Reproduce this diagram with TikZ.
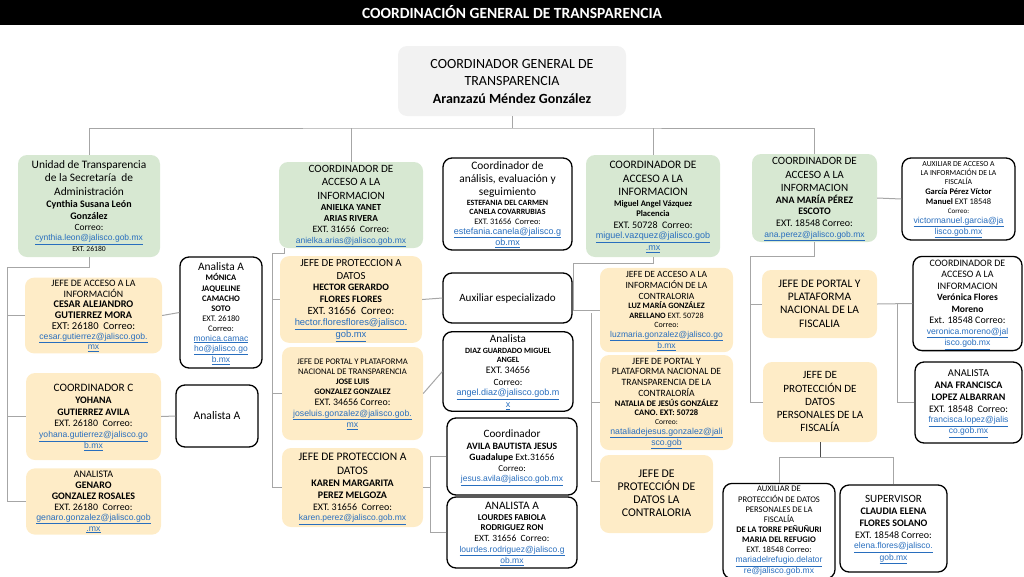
\documentclass[tikz,border=0pt]{standalone}
\usepackage{fontspec}
\setmainfont{Carlito}
\newfontfamily\linkfont{Liberation Sans}
\usepackage{xcolor}
\usepackage{tikz}
\usetikzlibrary{positioning}

\definecolor{cgreen}{RGB}{215,232,210}
\definecolor{corange}{RGB}{254,236,199}
\definecolor{cgray}{RGB}{242,242,242}
\definecolor{clink}{RGB}{40,110,190}
\definecolor{cline}{RGB}{166,166,166}

% one line of text: size, then a strut that fixes the line pitch
\newcommand{\lsf}{1.18}
\newcommand{\fs}[1]{\fontsize{#1}{#1}\selectfont\rule[-.3em]{0pt}{\lsf em}}
\newcommand{\lk}[2]{{\linkfont\fs{#1}\textcolor{clink}{\underline{#2}}}}
\newcommand{\zeroskip}{\baselineskip=0pt\lineskip=0pt\lineskiplimit=0pt}

\begin{document}
\begin{tikzpicture}[x=1pt, y=-1pt,
    greenbox/.style={fill=cgreen, rounded corners=9pt, align=center, inner sep=1pt, font=\zeroskip},
    orangebox/.style={fill=corange, rounded corners=9pt, align=center, inner sep=1pt, font=\zeroskip},
    whitebox/.style={draw=black, line width=1.3pt, fill=white, rounded corners=9pt, align=center, inner sep=1pt, font=\zeroskip},
    pitch/.style={font={\zeroskip\renewcommand{\lsf}{#1}}},
    boxsize/.style 2 args={minimum width=#1pt, minimum height=#2pt},
    conn/.style={draw=cline, line width=1pt}]

    \useasboundingbox (0,0) rectangle (1024,576);
    \fill[black] (0,0) rectangle (1024,25);
    \node[text=white, font=\fontsize{15.5}{18}\selectfont\bfseries] (title) at (512,12.5) {COORDINACIÓN GENERAL DE TRANSPARENCIA};

    % head
    \node[fill=cgray, rounded corners=9pt, align=center, boxsize={228}{70}, pitch=1.25] (head) at (512,81)
        {\fs{14}COORDINADOR GENERAL DE\\ \fs{14}TRANSPARENCIA\\ \fs{14}\textbf{Aranzazú Méndez González}};

    % first row
    \node[greenbox, boxsize={142}{102}] (unidad) at (89,206)
        {\fs{11.4}Unidad de Transparencia\\ \fs{11.4}de la Secretaría\ \ de\\ \fs{11.4}Administración\\
         \fs{10}\textbf{Cynthia Susana León}\\ \fs{10}\textbf{González}\\ \fs{9.5}Correo:\\
         \lk{8.5}{cynthia.leon@jalisco.gob.mx}\\ \fs{7.6}EXT. 26180};
    \node[greenbox, boxsize={144}{86}] (anielka) at (351,205)
        {\fs{11.1}COORDINADOR DE\\ \fs{11.1}ACCESO A LA\\ \fs{11.1}INFORMACION\\
         \fs{9.3}\textbf{ANIELKA YANET}\\ \fs{9.3}\textbf{ARIAS RIVERA}\\ \fs{9.7}EXT. 31656\ \ Correo:\\
         \lk{8.5}{anielka.arias@jalisco.gob.mx}};
    \node[whitebox, boxsize={129}{92}, pitch=1.15] (analisis) at (507.5,204)
        {\fs{11.4}Coordinador de\\ \fs{11.4}análisis, evaluación y\\ \fs{11.4}seguimiento\\
         \fs{8}\textbf{ESTEFANIA DEL CARMEN}\\ \fs{8}\textbf{CANELA COVARRUBIAS}\\ \fs{8.4}EXT. 31656\ \ Correo:\\
         \lk{9}{estefania.canela@jalisco.g}\\ \lk{9}{ob.mx}};
    \node[greenbox, boxsize={134}{102}] (miguel) at (653,206)
        {\fs{11.4}COORDINADOR DE\\ \fs{11.4}ACCESO A LA\\ \fs{11.4}INFORMACION\\
         \fs{8.6}\textbf{Miguel Angel Vázquez}\\ \fs{8.6}\textbf{Placencia}\\ \fs{10}EXT. 50728\ \ Correo:\\
         \lk{9}{miguel.vazquez@jalisco.gob}\\ \lk{9}{.mx}};
    \node[greenbox, boxsize={125}{88}] (anamaria) at (814.5,198)
        {\fs{11.1}COORDINADOR DE\\ \fs{11.1}ACCESO A LA\\ \fs{11.1}INFORMACION\\
         \fs{9.9}\textbf{ANA MARÍA PÉREZ}\\ \fs{9.9}\textbf{ESCOTO}\\ \fs{10}EXT. 18548 Correo:\\
         \lk{8.5}{ana.perez@jalisco.gob.mx}};
    \node[whitebox, boxsize={113}{82}] (auxfis) at (958.5,199)
        {\fs{7.7}AUXILIAR DE ACCESO A\\ \fs{7.7}LA INFORMACIÓN DE LA\\ \fs{7.7}FISCALÍA\\
         \fs{8.5}\textbf{García Pérez Víctor}\\ \fs{8.5}\textbf{Manuel} EXT 18548\\ \fs{7}Correo:\\
         \lk{8.6}{victormanuel.garcia@ja}\\ \lk{8.6}{lisco.gob.mx}};

    % left branch
    \node[orangebox, boxsize={137}{75}, pitch=1.06] (cesar) at (93.5,315.5)
        {\fs{9.8}JEFE DE ACCESO A LA\\ \fs{9.8}INFORMACIÓN\\
         \fs{10.2}\textbf{CESAR ALEJANDRO}\\ \fs{10.2}\textbf{GUTIERREZ MORA}\\ \fs{10.5}EXT: 26180\ \ Correo:\\
         \lk{8.6}{cesar.gutierrez@jalisco.gob.}\\ \lk{8.6}{mx}};
    \node[orangebox, boxsize={135}{87}] (yohana) at (93.5,416.5)
        {\fs{11.3}COORDINADOR C\\
         \fs{9.9}\textbf{YOHANA}\\ \fs{9.9}\textbf{GUTIERREZ AVILA}\\ \fs{9.9}EXT. 26180\ \ Correo:\\
         \lk{8.6}{yohana.gutierrez@jalisco.go}\\ \lk{8.6}{b.mx}};
    \node[orangebox, boxsize={135}{65}, pitch=1.1] (genaro) at (93.5,501.5)
        {\fs{10}ANALISTA\\
         \fs{10}\textbf{GENARO}\\ \fs{10}\textbf{GONZALEZ ROSALES}\\ \fs{9.9}EXT. 26180\ \ Correo:\\
         \lk{8.7}{genaro.gonzalez@jalisco.gob}\\ \lk{8.7}{.mx}};
    \node[whitebox, boxsize={82}{111}] (monica) at (221,312.5)
        {\fs{11.4}Analista A\\
         \fs{8.5}\textbf{MÓNICA}\\ \fs{8.5}\textbf{JAQUELINE}\\ \fs{8.5}\textbf{CAMACHO}\\ \fs{8.5}\textbf{SOTO}\\
         \fs{8.5}EXT. 26180\\ \fs{8.5}Correo:\\
         \lk{8.5}{monica.camac}\\ \lk{8.5}{ho@jalisco.go}\\ \lk{8.5}{b.mx}};
    \node[whitebox, boxsize={82}{62}] (analistaa) at (217,416) {\fs{11.6}Analista A};

    % second branch
    \node[orangebox, boxsize={142}{85}, pitch=1.16] (hector) at (351,299.5)
        {\fs{10.8}JEFE DE PROTECCION A\\ \fs{10.8}DATOS\\
         \fs{9.8}\textbf{HECTOR GERARDO}\\ \fs{9.8}\textbf{FLORES FLORES}\\ \fs{11}EXT. 31656\ \ Correo:\\
         \lk{9.4}{hector.floresflores@jalisco.}\\ \lk{9.4}{gob.mx}};
    \node[orangebox, boxsize={141}{93}] (joseluis) at (352.5,393.5)
        {\fs{8.6}JEFE DE PORTAL Y PLATAFORMA\\ \fs{8.6}NACIONAL DE TRANSPARENCIA\\
         \fs{8.4}\textbf{JOSE LUIS}\\ \fs{8.4}\textbf{GONZALEZ GONZALEZ}\\ \fs{9.9}EXT. 34656 Correo:\\
         \lk{8.7}{joseluis.gonzalez@jalisco.gob.}\\ \lk{8.7}{mx}};
    \node[orangebox, boxsize={141}{79}] (karen) at (352.5,487.5)
        {\fs{11.5}JEFE DE PROTECCION A\\ \fs{11.5}DATOS\\
         \fs{10}\textbf{KAREN MARGARITA}\\ \fs{10}\textbf{PEREZ MELGOZA}\\ \fs{10}EXT. 31656\ \ Correo:\\
         \lk{8.5}{karen.perez@jalisco.gob.mx}};

    % third column
    \node[whitebox, boxsize={129}{50}] (auxesp) at (507.5,298) {\fs{11.1}Auxiliar especializado};
    \node[whitebox, boxsize={130}{79}] (diaz) at (508,371.5)
        {\fs{11.2}Analista\\
         \fs{8}\textbf{DIAZ GUARDADO MIGUEL}\\ \fs{8}\textbf{ANGEL}\\ \fs{10}EXT. 34656\\ \fs{9.5}Correo:\\
         \lk{9}{angel.diaz@jalisco.gob.m}\\ \lk{9}{x}};
    \node[whitebox, boxsize={130}{77}] (avila) at (512,456.5)
        {\fs{11.2}Coordinador\\
         \fs{9.7}\textbf{AVILA BAUTISTA JESUS}\\ \fs{9.7}\textbf{Guadalupe} Ext.31656\\ \fs{9}Correo:\\
         \lk{8.5}{jesus.avila@jalisco.gob.mx}};
    \node[whitebox, boxsize={130}{71}] (lourdes) at (512,532.5)
        {\fs{11.4}ANALISTA A\\
         \fs{8.9}\textbf{LOURDES FABIOLA}\\ \fs{8.9}\textbf{RODRIGUEZ RON}\\ \fs{9.5}EXT. 31656\ \ Correo:\\
         \lk{8.5}{lourdes.rodriguez@jalisco.g}\\ \lk{8.5}{ob.mx}};

    % contraloria
    \node[orangebox, boxsize={133}{84}, pitch=1.16] (luz) at (666.5,310)
        {\fs{9.5}JEFE DE ACCESO A LA\\ \fs{9.5}INFORMACIÓN DE LA\\ \fs{9.5}CONTRALORIA\\
         \fs{8.2}\textbf{LUZ MARÍA GONZÁLEZ}\\ \fs{8.2}\textbf{ARELLANO} EXT. 50728\\ \fs{8}Correo:\\
         \lk{8.5}{luzmaria.gonzalez@jalisco.go}\\ \lk{8.5}{b.mx}};
    \node[orangebox, boxsize={133}{95}, pitch=1.12] (natalia) at (666.5,402.5)
        {\fs{9.6}JEFE DE PORTAL Y\\ \fs{9.6}PLATAFORMA NACIONAL DE\\ \fs{9.6}TRANSPARENCIA DE LA\\ \fs{9.6}CONTRALORÍA\\
         \fs{8.5}\textbf{NATALIA DE JESÚS GONZÁLEZ}\\ \fs{8.5}\textbf{CANO. EXT: 50728}\\ \fs{7.5}Correo:\\
         \lk{8.7}{nataliadejesus.gonzalez@jali}\\ \lk{8.7}{sco.gob}};
    \node[orangebox, boxsize={113}{78}, pitch=1.1] (protcon) at (656.5,494)
        {\fs{11.8}JEFE DE\\ \fs{11.8}PROTECCIÓN DE\\ \fs{11.8}DATOS LA\\ \fs{11.8}CONTRALORIA};

    % fiscalia
    \node[orangebox, boxsize={115}{68}, pitch=1.15] (portalfis) at (819.5,304)
        {\fs{11.5}JEFE DE PORTAL Y\\ \fs{11.5}PLATAFORMA\\ \fs{11.5}NACIONAL DE LA\\ \fs{11.5}FISCALIA};
    \node[orangebox, boxsize={114}{80}, pitch=1.2] (protfis) at (820,402)
        {\fs{11.1}JEFE DE\\ \fs{11.1}PROTECCIÓN DE\\ \fs{11.1}DATOS\\ \fs{11.1}PERSONALES DE LA\\ \fs{11.1}FISCALÍA};
    \node[whitebox, boxsize={109}{93}] (veronica) at (967.5,303.5)
        {\fs{9.9}COORDINADOR DE\\ \fs{9.9}ACCESO A LA\\ \fs{9.9}INFORMACION\\
         \fs{9.6}\textbf{Verónica Flores}\\ \fs{9.6}\textbf{Moreno}\\ \fs{10}Ext. 18548 Correo:\\
         \lk{8.6}{veronica.moreno@jal}\\ \lk{8.6}{isco.gob.mx}};
    \node[whitebox, boxsize={107}{81}] (anafran) at (968.5,402.5)
        {\fs{10.5}ANALISTA\\
         \fs{10}\textbf{ANA FRANCISCA}\\ \fs{10}\textbf{LOPEZ ALBARRAN}\\ \fs{10}EXT. 18548\ \ Correo:\\
         \lk{8.5}{francisca.lopez@jalis}\\ \lk{8.5}{co.gob.mx}};
    \node[whitebox, boxsize={112}{92}] (auxprot) at (779,531)
        {\fs{8.6}AUXILIAR DE\\ \fs{8.6}PROTECCIÓN DE DATOS\\ \fs{8.6}PERSONALES DE LA\\ \fs{8.6}FISCALÍA\\
         \fs{8.5}\textbf{DE LA TORRE PEÑUÑURI}\\ \fs{8.5}\textbf{MARIA DEL REFUGIO}\\ \fs{8.5}EXT. 18548 Correo:\\
         \lk{8.5}{mariadelrefugio.delator}\\ \lk{8.5}{re@jalisco.gob.mx}};
    \node[whitebox, boxsize={107}{87}] (supervisor) at (893.5,528.5)
        {\fs{11.1}SUPERVISOR\\
         \fs{10}\textbf{CLAUDIA ELENA}\\ \fs{10}\textbf{FLORES SOLANO}\\ \fs{10}EXT. 18548 Correo:\\
         \lk{8.5}{elena.flores@jalisco.}\\ \lk{8.5}{gob.mx}};

    % connectors
    \coordinate (bus) at (512,128);
    \draw[conn] (head.south) -- (bus);
    \draw[conn] (unidad.north) |- (bus) -| (anamaria.north);
    \draw[conn] (anielka.north) -- (anielka.north |- bus);
    \draw[conn] (miguel.north) -- (miguel.north |- bus);

    \coordinate (spinel) at (7,267);
    \draw[conn] (unidad.south) |- (spinel) |- (genaro.west);
    \draw[conn] (cesar.west) -- (cesar.west -| spinel);
    \draw[conn] (yohana.west) -- (yohana.west -| spinel);
    \draw[conn] (cesar.east) -- (monica.west);
    \draw[conn] (yohana.east) -- (analistaa.west);

    \coordinate (spinea) at (272,253);
    \draw[conn] ([xshift=6pt]anielka.south west) |- (spinea) |- (karen.west);
    \draw[conn] (hector.west) -- (hector.west -| spinea);
    \draw[conn] (joseluis.west) -- (joseluis.west -| spinea);
    \draw[conn] (hector.east) -- (auxesp.west);
    \draw[conn] (joseluis.east) -- (diaz.west);
    \coordinate (spinek) at (430,487.5);
    \draw[conn] (karen.east) -- (spinek);
    \draw[conn] (avila.west) -| (spinek);
    \draw[conn] (lourdes.west) -| (spinek);

    \coordinate (spinem) at (573,310);
    \draw[conn] (miguel.south) -- ++(0,6) -| (spinem) -- (luz.west);
    \coordinate (spinec) at (591,313);
    \draw[conn] (spinec) |- ([yshift=13pt]protcon.west);
    \draw[conn] (natalia.west) -- (natalia.west -| spinec);

    \coordinate (spinef) at (750,256);
    \draw[conn] (anamaria.south) |- (spinef) |- (protfis.west);
    \draw[conn] (portalfis.west) -- (portalfis.west -| spinef);
    \draw[conn] (anamaria.east) -- (auxfis.west);
    \draw[conn] (portalfis.east) -- (veronica.west);
    \coordinate (spinev) at (897,304);
    \draw[conn] (spinev) |- (anafran.west);
    \draw[conn, draw=black!70] (protfis.south) -- ++(0,15) coordinate (spinep);
    \draw[conn] (auxprot.north) |- (spinep) -| (supervisor.north);
\end{tikzpicture}
\end{document}
